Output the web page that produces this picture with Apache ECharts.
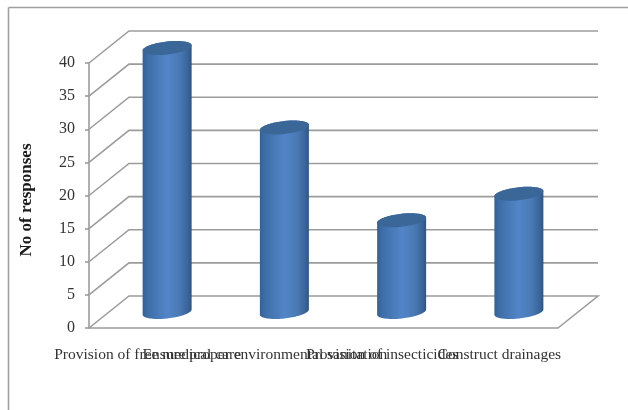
<!DOCTYPE html>
<html>
<head>
<meta charset="utf-8">
<style>html,body{margin:0;padding:0;background:#fff}#chart{width:628px;height:410px}</style>
<script src="https://cdn.jsdelivr.net/npm/echarts@6/dist/echarts.min.js"></script>
</head>
<body>
<div id="chart"></div>
<script>
// Responses per proposed control measure
const categories = [
  'Provision of free medical care',
  'Ensure proper environmental sanitation',
  'Provision of insecticides',
  'Construct drainages'
];
const responses = [40, 28, 14, 18];
const yTicks = [0, 5, 10, 15, 20, 25, 30, 35, 40];

// Oblique projection of the chart's depth, in pixels
const DEPTH_X = 40;
const DEPTH_Y = -32;
const GRID_COLOR = '#9c9c9c';
const TEXT_COLOR = '#333333';
const FONT = '"Liberation Serif", serif';

// Walls: each tick runs up the side wall, then along the back wall
function renderWall(params, api) {
  const v = api.value(1);
  const band = api.size([1, 0])[0];
  const c0 = api.coord([0, v]);
  const c3 = api.coord([categories.length - 1, v]);
  const xL = c0[0] - band / 2;
  const xR = c3[0] + band / 2;
  const pts = [[xL, c0[1]], [xL + DEPTH_X, c0[1] + DEPTH_Y], [xR + DEPTH_X, c0[1] + DEPTH_Y]];
  if (v === 0) pts.push([xR, c0[1]]);
  return {
    type: 'polyline',
    silent: true,
    shape: { points: pts },
    style: { stroke: GRID_COLOR, lineWidth: 1.6, fill: 'none' }
  };
}

// Point on a sheared ellipse, the footprint of a cylinder in this projection
function rim(cx, cy, t) {
  const a = 24.5, k = 2.6, b = 6.5;
  return [cx + a * Math.cos(t), cy - k * Math.cos(t) + b * Math.sin(t)];
}

function renderCylinder(params, api) {
  const i = api.value(0);
  const top = api.coord([i, api.value(1)]);
  const base = api.coord([i, 0]);
  const cx = base[0] + DEPTH_X / 2 - 0.5;
  const yBase = base[1] + DEPTH_Y / 2;
  const yTop = top[1] + DEPTH_Y / 2 + 1;
  const STEPS = 48;
  const body = [];
  // far rim arc of the top, then the near rim arc of the base
  for (let s = 0; s <= STEPS; s++) body.push(rim(cx, yTop, Math.PI + (s / STEPS) * Math.PI));
  for (let s = 0; s <= STEPS; s++) body.push(rim(cx, yBase, (s / STEPS) * Math.PI));
  const cap = [];
  for (let s = 0; s < STEPS * 2; s++) cap.push(rim(cx, yTop, (s / STEPS) * Math.PI));
  return {
    type: 'group',
    children: [
      {
        type: 'polygon',
        shape: { points: body },
        style: {
          fill: new echarts.graphic.LinearGradient(0, 0, 1, 0, [
            { offset: 0, color: '#33619a' },
            { offset: 0.12, color: '#3f6fa9' },
            { offset: 0.5, color: '#5285c8' },
            { offset: 0.75, color: '#4a7ab5' },
            { offset: 0.92, color: '#3b659b' },
            { offset: 1, color: '#2f547f' }
          ])
        }
      },
      {
        type: 'polygon',
        shape: { points: cap },
        style: { fill: '#3a6798' }
      }
    ]
  };
}

const chart = echarts.init(document.getElementById('chart'), null, { renderer: 'canvas' });
chart.setOption({
  animation: false,
  backgroundColor: '#ffffff',
  grid: { left: 89, right: 70, top: 63, bottom: 82 },
  xAxis: {
    type: 'category',
    data: categories,
    axisLine: { lineStyle: { color: GRID_COLOR, width: 1.6 } },
    axisTick: { length: 5, lineStyle: { color: GRID_COLOR, width: 1.6 } },
    axisLabel: {
      interval: 0, hideOverlap: false, margin: 19,
      color: TEXT_COLOR, fontFamily: FONT, fontSize: 15.5
    }
  },
  yAxis: {
    type: 'value',
    min: 0, max: 40, interval: 5,
    name: 'No of responses',
    nameLocation: 'middle',
    nameGap: 54,
    nameRotate: 90,
    nameTextStyle: {
      color: '#1a1a1a', fontFamily: FONT, fontSize: 17, fontWeight: 'bold',
      padding: [0, 9, 0, 0]
    },
    axisLine: { show: true, lineStyle: { color: GRID_COLOR, width: 1.6 } },
    axisTick: { show: true, length: 4, lineStyle: { color: GRID_COLOR, width: 1.6 } },
    splitLine: { show: false },
    axisLabel: { margin: 14, color: TEXT_COLOR, fontFamily: FONT, fontSize: 16 }
  },
  series: [
    {
      type: 'custom',
      name: 'walls',
      renderItem: renderWall,
      data: yTicks.map(v => [0, v]),
      encode: { x: 0, y: 1 },
      z: 1,
      silent: true
    },
    {
      type: 'custom',
      name: 'No of responses',
      renderItem: renderCylinder,
      data: responses.map((v, i) => [i, v]),
      encode: { x: 0, y: 1 },
      z: 3
    }
  ],
  graphic: [
    { type: 'line', shape: { x1: 8.5, y1: 7.5, x2: 8.5, y2: 410 }, style: { stroke: '#a0a0a0', lineWidth: 1.6 } },
    { type: 'line', shape: { x1: 8.5, y1: 7.5, x2: 628, y2: 7.5 }, style: { stroke: '#a0a0a0', lineWidth: 1.6 } }
  ]
});
</script>
</body>
</html>
